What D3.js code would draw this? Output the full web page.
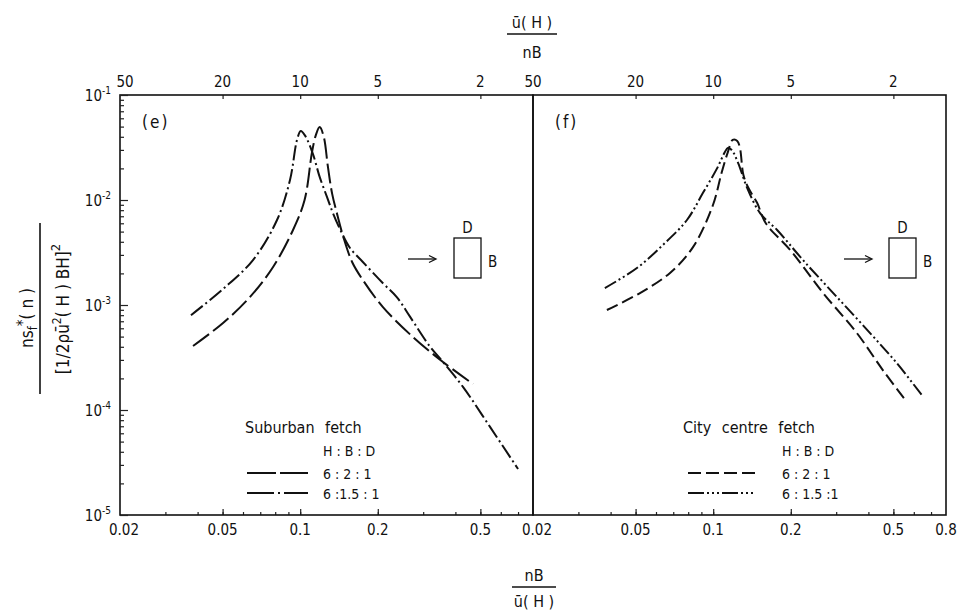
<!DOCTYPE html>
<html>
<head>
<meta charset="utf-8">
<script src="https://cdn.jsdelivr.net/npm/d3@7"></script>
<style>
  html, body { margin: 0; padding: 0; background: #fff; }
  svg text {
    font-family: "DejaVu Sans Condensed", "Liberation Sans Narrow", "DejaVu Sans", sans-serif;
    font-stretch: condensed;
    fill: #111;
  }
</style>
</head>
<body>
<svg id="chart" width="960" height="615"></svg>
<script>
// ---- tick values ----
const bottomLabelsE = [0.02, 0.05, 0.1, 0.2, 0.5];
const bottomLabelsF = [0.02, 0.05, 0.1, 0.2, 0.5, 0.8];
const topLabels = [50, 20, 10, 5, 2];          // ū(H)/nB
const yDecades = [1e-1, 1e-2, 1e-3, 1e-4, 1e-5];
const yExponents = ["-1", "-2", "-3", "-4", "-5"];

// ---- (e) suburban fetch ----
const subX_621 = [0.0384, 0.0502, 0.0638, 0.0785, 0.0938, 0.104, 0.111, 0.115, 0.119, 0.1235, 0.128, 0.133, 0.140, 0.147, 0.159, 0.175, 0.209, 0.274, 0.358, 0.468];
const subY_621 = [4.07e-4, 6.74e-4, 1.19e-3, 2.3e-3, 5.18e-3, 0.0100, 0.028, 0.0415, 0.0495, 0.0398, 0.021, 0.0115, 6.9e-3, 4.45e-3, 2.57e-3, 1.73e-3, 9.6e-4, 4.95e-4, 2.87e-4, 1.77e-4];
const subX_6151 = [0.0377, 0.0502, 0.0656, 0.0813, 0.0913, 0.0972, 0.1005, 0.1045, 0.112, 0.119, 0.127, 0.134, 0.145, 0.156, 0.175, 0.209, 0.237, 0.267, 0.319, 0.358, 0.428, 0.545, 0.700];
const subY_6151 = [8.0e-4, 1.42e-3, 2.68e-3, 6.45e-3, 0.0155, 0.0373, 0.0454, 0.0410, 0.0275, 0.0166, 0.0107, 7.5e-3, 4.85e-3, 3.49e-3, 2.57e-3, 1.62e-3, 1.19e-3, 7.7e-4, 4.0e-4, 2.87e-4, 1.66e-4, 6.9e-5, 2.74e-5];

// ---- (f) city centre fetch ----
const cityX_621 = [0.0387, 0.052, 0.068, 0.0835, 0.0998, 0.108, 0.114, 0.119, 0.124, 0.127, 0.131, 0.137, 0.148, 0.160, 0.199, 0.267, 0.361, 0.455, 0.564];
const cityY_621 = [8.96e-4, 1.3e-3, 2.02e-3, 3.56e-3, 8.96e-3, 0.0185, 0.0286, 0.0373, 0.0365, 0.0313, 0.0173, 0.013, 9.4e-3, 6.0e-3, 3.34e-3, 1.3e-3, 5.4e-4, 2.4e-4, 1.19e-4];
const cityX_6151 = [0.038, 0.0506, 0.0638, 0.0791, 0.0913, 0.1035, 0.111, 0.114, 0.118, 0.125, 0.135, 0.152, 0.177, 0.223, 0.302, 0.406, 0.515, 0.644];
const cityY_6151 = [1.45e-3, 2.25e-3, 3.73e-3, 6.45e-3, 0.0117, 0.0200, 0.0286, 0.0313, 0.0299, 0.0225, 0.0133, 7.5e-3, 5.18e-3, 2.68e-3, 1.19e-3, 5.4e-4, 2.8e-4, 1.39e-4];

const svg = d3.select("#chart");
const plotTop = 95, plotBottom = 515;
const y = d3.scaleLog().domain([1e-5, 1e-1]).range([plotBottom, plotTop]);

const panels = [
  { id: "e", x0: 120, x1: 533, labels: bottomLabelsE, tag: "(e)",
    title: "Suburban fetch",
    series: [
      { xs: subX_621, ys: subY_621, dash: "20,5", key: "6 : 2 : 1", legendDash: "29,4" },
      { xs: subX_6151, ys: subY_6151, dash: "15,3.5,2,3.5", key: "6 :1.5 : 1", legendDash: "27,4,2,4" }
    ] },
  { id: "f", x0: 533, x1: 946, labels: bottomLabelsF, tag: "(f)",
    title: "City centre fetch",
    series: [
      { xs: cityX_621, ys: cityY_621, dash: "12,5", key: "6 : 2 : 1", legendDash: "13,5" },
      { xs: cityX_6151, ys: cityY_6151, dash: "13,3,2,3,2,3", key: "6 : 1.5 :1", legendDash: "16,3,2,3,2,3,2,3" }
    ] }
];

const fmtBottom = d => (d < 0.1 ? d3.format(".2f")(d) : String(d));

panels.forEach((p, i) => {
  const x = d3.scaleLog().domain([0.02, 0.8]).range([p.x0, p.x1]);
  const g = svg.append("g");

  // minor ticks on the bottom edge, pointing into the panel
  const minor = x.ticks().filter(v => v > 0.02 * 1.001 && v < 0.8 * 0.999);
  g.append("g")
    .attr("transform", `translate(0,${plotBottom})`)
    .call(d3.axisBottom(x).tickValues(minor).tickSize(-3).tickFormat(""))
    .call(a => a.select(".domain").remove())
    .call(a => a.selectAll("line").attr("stroke", "#222").attr("stroke-width", 1.2));
  g.append("g")
    .attr("transform", `translate(0,${plotBottom})`)
    .call(d3.axisBottom(x).tickValues(p.labels.filter(v => v > 0.021 && v < 0.79)).tickSize(-6).tickFormat(""))
    .call(a => a.select(".domain").remove())
    .call(a => a.selectAll("line").attr("stroke", "#222").attr("stroke-width", 1.2));

  // bottom labels
  g.selectAll("text.bl").data(p.labels).enter().append("text")
    .attr("x", d => x(d) + (d === 0.02 ? 4 : 0))
    .attr("y", 535)
    .attr("text-anchor", "middle")
    .attr("font-size", 15)
    .text(fmtBottom);

  // top edge: ū(H)/nB ticks and labels
  g.append("g")
    .attr("transform", `translate(0,${plotTop})`)
    .call(d3.axisTop(x).tickValues(topLabels.map(v => 1 / v).filter(v => v > 0.021)).tickSize(-4).tickFormat(""))
    .call(a => a.select(".domain").remove())
    .call(a => a.selectAll("line").attr("stroke", "#222").attr("stroke-width", 1.2));
  g.selectAll("text.tl").data(topLabels).enter().append("text")
    .attr("x", d => x(1 / d) + (i === 0 && d === 50 ? 5 : 0))
    .attr("y", 87)
    .attr("text-anchor", "middle")
    .attr("font-size", 15)
    .text(d => d);

  // frame
  g.append("rect")
    .attr("x", p.x0).attr("y", plotTop)
    .attr("width", p.x1 - p.x0).attr("height", plotBottom - plotTop)
    .attr("fill", "none").attr("stroke", "#111").attr("stroke-width", 1.6);

  // curves
  const line = d3.line()
    .x(d => x(d[0]))
    .y(d => y(d[1]))
    .curve(d3.curveCatmullRom.alpha(0.5));
  p.series.forEach(s => {
    g.append("path")
      .datum(s.xs.map((v, k) => [v, s.ys[k]]))
      .attr("d", line)
      .attr("fill", "none")
      .attr("stroke", "#111")
      .attr("stroke-width", 2)
      .attr("stroke-dasharray", s.dash);
  });

  // panel tag
  g.append("text")
    .attr("x", p.x0 + 22).attr("y", 128)
    .attr("font-size", 17)
    .attr("letter-spacing", 2)
    .text(p.tag);

  // legend
  const lx = i === 0 ? 245 : 683;
  const keyX = i === 0 ? 323 : 782;
  const sx0 = i === 0 ? 247 : 688, sx1 = i === 0 ? 308 : 755;
  g.append("text").attr("x", lx).attr("y", 433).attr("font-size", 16).attr("word-spacing", 6).text(p.title);
  g.append("text").attr("x", keyX).attr("y", 456).attr("font-size", 14).text("H : B : D");
  p.series.forEach((s, k) => {
    const ly = 473 + k * 20;
    g.append("line")
      .attr("x1", sx0).attr("x2", sx1).attr("y1", ly).attr("y2", ly)
      .attr("stroke", "#111").attr("stroke-width", 2)
      .attr("stroke-dasharray", s.legendDash);
    g.append("text").attr("x", keyX).attr("y", ly + 6).attr("font-size", 14).text(s.key);
  });

  // building plan sketch: wind arrow, box, D and B
  const ax0 = i === 0 ? 408 : 844, bx = i === 0 ? 454 : 889;
  const ay = 259;
  g.append("line").attr("x1", ax0).attr("x2", ax0 + 27).attr("y1", ay).attr("y2", ay)
    .attr("stroke", "#111").attr("stroke-width", 1.3);
  g.append("path")
    .attr("d", `M${ax0 + 21},${ay - 3.5} L${ax0 + 28},${ay} L${ax0 + 21},${ay + 3.5}`)
    .attr("fill", "none").attr("stroke", "#111").attr("stroke-width", 1.3);
  g.append("rect").attr("x", bx).attr("y", 238).attr("width", 27).attr("height", 40)
    .attr("fill", "none").attr("stroke", "#111").attr("stroke-width", 1.3);
  g.append("text").attr("x", bx + 13.5).attr("y", 233).attr("text-anchor", "middle").attr("font-size", 15).text("D");
  g.append("text").attr("x", bx + 34).attr("y", 267).attr("font-size", 15).text("B");
});

// left axis of panel (e): decade and minor ticks pointing inward
const yMinor = y.ticks().filter(v => !yDecades.includes(v));
svg.append("g")
  .attr("transform", "translate(120,0)")
  .call(d3.axisLeft(y).tickValues(yMinor).tickSize(-4).tickFormat(""))
  .call(a => a.select(".domain").remove())
  .call(a => a.selectAll("line").attr("stroke", "#222").attr("stroke-width", 1.2));
svg.append("g")
  .attr("transform", "translate(120,0)")
  .call(d3.axisLeft(y).tickValues(yDecades).tickSize(-8).tickFormat(""))
  .call(a => a.select(".domain").remove())
  .call(a => a.selectAll("line").attr("stroke", "#222").attr("stroke-width", 1.2));
yDecades.forEach((v, k) => {
  const t = svg.append("text")
    .attr("x", 111).attr("y", y(v) + 6)
    .attr("text-anchor", "end")
    .attr("font-size", 15);
  t.append("tspan").text("10");
  t.append("tspan").attr("dy", -7).attr("font-size", 10).text(yExponents[k]);
});

// top title: ū(H) / nB
svg.append("text").attr("x", 532).attr("y", 28).attr("text-anchor", "middle").attr("font-size", 16).text("ū( H )");
svg.append("line").attr("x1", 507).attr("x2", 557).attr("y1", 34).attr("y2", 34).attr("stroke", "#111").attr("stroke-width", 1.6);
svg.append("text").attr("x", 532).attr("y", 58).attr("text-anchor", "middle").attr("font-size", 16).text("nB");

// bottom title: nB / ū(H)
svg.append("text").attr("x", 534).attr("y", 581).attr("text-anchor", "middle").attr("font-size", 16).text("nB");
svg.append("line").attr("x1", 512).attr("x2", 556).attr("y1", 587).attr("y2", 587).attr("stroke", "#111").attr("stroke-width", 1.6);
svg.append("text").attr("x", 534).attr("y", 607).attr("text-anchor", "middle").attr("font-size", 16).text("ū( H )");

// y title: ns_f*(n) / [1/2 ρ ū²(H) BH]²
const yt = svg.append("g");
const num = yt.append("text")
  .attr("transform", "translate(33,318) rotate(-90)")
  .attr("text-anchor", "middle").attr("font-size", 17);
num.append("tspan").text("ns");
num.append("tspan").attr("dy", 4).attr("font-size", 13).text("f");
num.append("tspan").attr("dy", -9).attr("font-size", 15).text("*");
num.append("tspan").attr("dy", 5).text("( n )");
yt.append("line").attr("x1", 40).attr("x2", 40).attr("y1", 223).attr("y2", 394)
  .attr("stroke", "#111").attr("stroke-width", 1.6);
const den = yt.append("text")
  .attr("transform", "translate(69,309) rotate(-90)")
  .attr("text-anchor", "middle").attr("font-size", 17);
den.append("tspan").text("[1/2ρū");
den.append("tspan").attr("dy", -8).attr("font-size", 12).text("2");
den.append("tspan").attr("dy", 8).text("( H ) BH]");
den.append("tspan").attr("dy", -9).attr("font-size", 13).text("2");
</script>
</body>
</html>
